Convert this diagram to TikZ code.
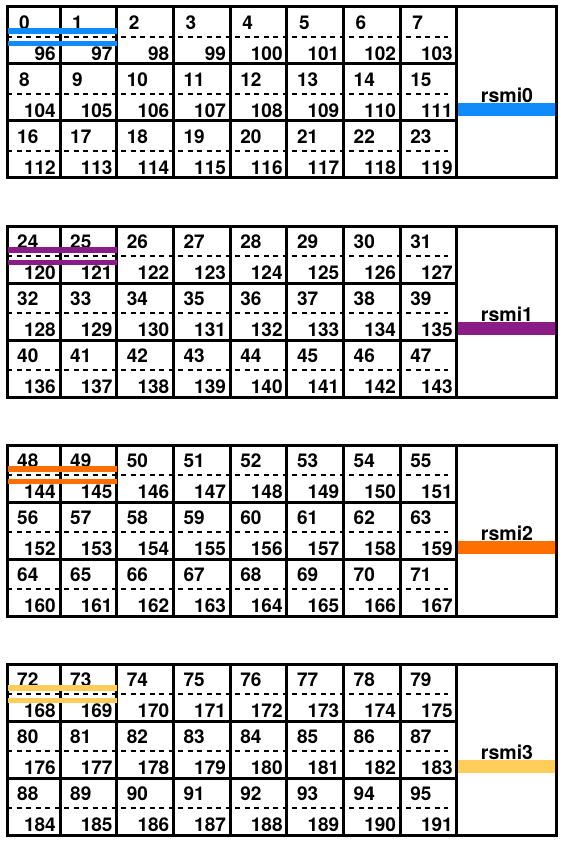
\documentclass[tikz,border=0pt]{standalone}
\usepackage{fontspec}
\setmainfont{TeX Gyre Heros}
\definecolor{cblue}{RGB}{16,140,250}
\definecolor{cpurple}{RGB}{139,28,134}
\definecolor{corange}{RGB}{255,111,0}
\definecolor{cyellow}{RGB}{255,206,90}
\begin{document}
\begin{tikzpicture}[x=1pt,y=-1pt,
  gridline/.style={line width=3pt},
  dashline/.style={line width=2.8pt,dash pattern=on 5pt off 4.5pt},
  num/.style={inner sep=0pt,font=\fontsize{19}{21}\bfseries\selectfont},
  lbl/.style={inner sep=0pt,font=\fontsize{19.5}{22}\bfseries\selectfont}]
\useasboundingbox (0,0) rectangle (564,845);
\foreach \b/\col/\name in {0/cblue/rsmi0,1/cpurple/rsmi1,2/corange/rsmi2,3/cyellow/rsmi3} {
  \pgfmathsetmacro{\T}{7+219*\b}
  % label bar
  \fill[\col] (457,\T+96) rectangle (556,\T+109);
  \node[lbl] (L\b) at (507,\T+88) {\name};
  % grid
  \draw[gridline] (7,\T) rectangle (556,\T+171);
  \foreach \k in {0,...,7} \draw[gridline] ({60+56.7*\k},\T) -- ({60+56.7*\k},\T+171);
  \foreach \r in {1,2} \draw[gridline] (7,\T+57*\r) -- (456.9,\T+57*\r);
  % dashed lines
  \foreach \r in {0,1,2} \draw[dashline] (7,\T+57*\r+30) -- (448,\T+57*\r+30);
  % numbers
  \foreach \r in {0,1,2} {
    \foreach \c in {0,...,7} {
      \pgfmathtruncatemacro{\tn}{24*\b+8*\r+\c}
      \pgfmathtruncatemacro{\bn}{96+24*\b+8*\r+\c}
      \pgfmathsetmacro{\xl}{\c==0 ? 7 : 60+56.7*(\c-1)}
      \pgfmathsetmacro{\xr}{60+56.7*\c}
      \pgfmathsetmacro{\xo}{\tn<10 ? 12 : 10}
      \node[num,anchor=west] (t\tn) at (\xl+\xo,\T+57*\r+15.5) {\tn};
      \node[num,anchor=east] (u\bn) at (\xr-4,\T+57*\r+46.5) {\bn};
    }
  }
  % bars over first two cells
  \fill[\col] (8,\T+21.3) rectangle (116.7,\T+26.8);
  \fill[\col] (8,\T+33.6) rectangle (116.7,\T+39);
}
\end{tikzpicture}
\end{document}
